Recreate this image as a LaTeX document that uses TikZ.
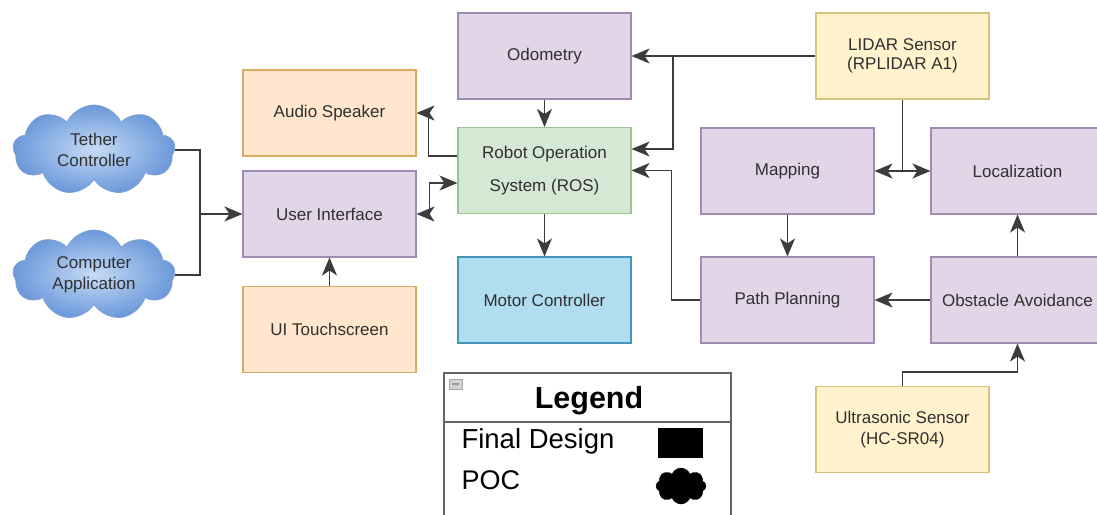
\documentclass[tikz,border=0pt]{standalone}
\usepackage{fontspec}
\setmainfont{Liberation Sans}
\usetikzlibrary{arrows.meta,shapes.symbols,calc}
\definecolor{purF}{HTML}{E1D5E7}\definecolor{purD}{HTML}{A08CB0}
\definecolor{oraF}{HTML}{FFE6CC}\definecolor{oraD}{HTML}{DDAA66}
\definecolor{greF}{HTML}{D5E8D4}\definecolor{greD}{HTML}{9CC490}
\definecolor{bluF}{HTML}{B1DDF0}\definecolor{bluD}{HTML}{4A93B8}
\definecolor{yelF}{HTML}{FFF2CC}\definecolor{yelD}{HTML}{D8C27E}
\definecolor{cloudIn}{HTML}{C6DBF5}\definecolor{cloudOut}{HTML}{6A98DA}
\definecolor{cloudD}{HTML}{7FA3D6}
\definecolor{txt}{HTML}{303030}\definecolor{lncol}{HTML}{3C3C3C}
\newcommand{\boxfont}{\fontsize{17}{21}\selectfont}
\begin{document}
\begin{tikzpicture}[x=1pt,y=-1pt,
  blk/.style={draw=#1D, fill=#1F, line width=1.1pt, minimum width=173pt, minimum height=86pt,
    inner sep=0pt, align=center, font=\boxfont, text=txt},
  cld/.style={cloud, cloud puffs=9, cloud puff arc=130, aspect=1.8, draw=cloudD, line width=0.8pt,
    inner color=cloudIn, outer color=cloudOut, minimum width=162pt, minimum height=90pt,
    inner sep=0pt, align=center, font=\boxfont, text=txt},
  arr/.style={draw=lncol, line width=1.3pt, -{Stealth[length=18pt,width=15pt,inset=5pt]}},
  arrb/.style={draw=lncol, line width=1.3pt, {Stealth[length=18pt,width=15pt,inset=5pt]}-{Stealth[length=18pt,width=15pt,inset=5pt]}},
  plain/.style={draw=lncol, line width=1.3pt},
  legline/.style={draw=gray!80!black, line width=1.2pt}
]
\useasboundingbox (0,0) rectangle (1097,514);
\fill[white] (0,0) rectangle (1097,514);

% nodes
\node[blk=pur] (odo)   at (544.5,56)   {Odometry};
\node[blk=gre] (ros)   at (544.5,170.5){Robot Operation\\[12pt]System (ROS)};
\node[blk=blu] (motor) at (544.5,300)  {Motor Controller};
\node[blk=ora] (audio) at (329.5,113)  {Audio Speaker};
\node[blk=pur] (ui)    at (329.5,214)  {User Interface};
\node[blk=ora] (touch) at (329.5,329.5){UI Touchscreen};
\node[blk=yel] (lidar) at (902.5,56)   {LIDAR Sensor\\[-2pt](RPLIDAR A1)};
\node[blk=pur] (map)   at (787.5,171)  {Mapping};
\node[blk=pur] (loc)   at (1017.5,171) {Localization};
\node[blk=pur] (pp)    at (787.5,300)  {Path Planning};
\node[blk=pur] (obs)   at (1017.5,300) {Obstacle Avoidance};
\node[blk=yel] (us)    at (902.5,429.5){Ultrasonic Sensor\\(HC-SR04)};
\node[cld] (tc) at (94,150) {Tether\\Controller};
\node[cld] (ca) at (94,275) {Computer\\Application};

% connectors
\coordinate (j1) at (673,56);
\draw[arr] (lidar.west) -- (odo.east);
\draw[arr] (j1) |- ($(ros.east)+(0,-21.5)$);
\draw[arr] (pp.west) -- ++(-29,0) |- (ros.east);
\coordinate (j2) at (lidar.south |- map.east);
\draw[plain] (lidar.south) -- (j2);
\draw[arr] (j2) -- (map.east);
\draw[arr] (j2) -- (loc.west);
\draw[arr] (map.south) -- (pp.north);
\draw[arr] (obs.west) -- (pp.east);
\draw[arr] (obs.north) -- (loc.south);
\draw[arr] (us.north) -- ++(0,-14) -| (obs.south);
\draw[arr] (odo.south) -- (ros.north);
\draw[arr] (ros.south) -- (motor.north);
\draw[arr] ($(ros.west)+(0,-14.5)$) -- ++(-29,0) |- (audio.east);
\draw[arrb] (ui.east) -- ++(13,0) |- ($(ros.west)+(0,12.5)$);
\draw[arr] (touch.north) -- (ui.south);
\coordinate (j3) at (200,214);
\draw[plain] (tc.east) -| (j3);
\draw[plain] (ca.east) -| (j3);
\draw[arr] (j3) -- (ui.west);

% legend
\draw[legline] (444,516) -- (444,373) -- (731,373) -- (731,516);
\draw[legline] (444,422) -- (731,422);
\node[draw=gray!70, fill=gray!35, minimum width=13pt, minimum height=10pt, inner sep=0pt] (minus) at (455.5,384) {};
\draw[gray!80, line width=1.2pt] ($(minus.center)+(-3.5,0)$) -- ($(minus.center)+(3.5,0)$);
\node[font=\fontsize{30.5}{34}\selectfont\bfseries] (legtitle) at (589,401) {Legend};
\node[font=\fontsize{27.5}{30}\selectfont, anchor=west] (legfd) at (458,441) {Final Design};
\node[font=\fontsize{27}{30}\selectfont, anchor=west] (legpoc) at (458,480) {POC};
\node[fill=black, minimum width=45pt, minimum height=30pt, inner sep=0pt] (legrect) at (680.5,443) {};
\node[cloud, cloud puffs=8, cloud puff arc=140, aspect=1.4, fill=black, draw=black,
  minimum width=50pt, minimum height=36pt, inner sep=0pt] (legcloud) at (681,486) {};
\end{tikzpicture}
\end{document}
